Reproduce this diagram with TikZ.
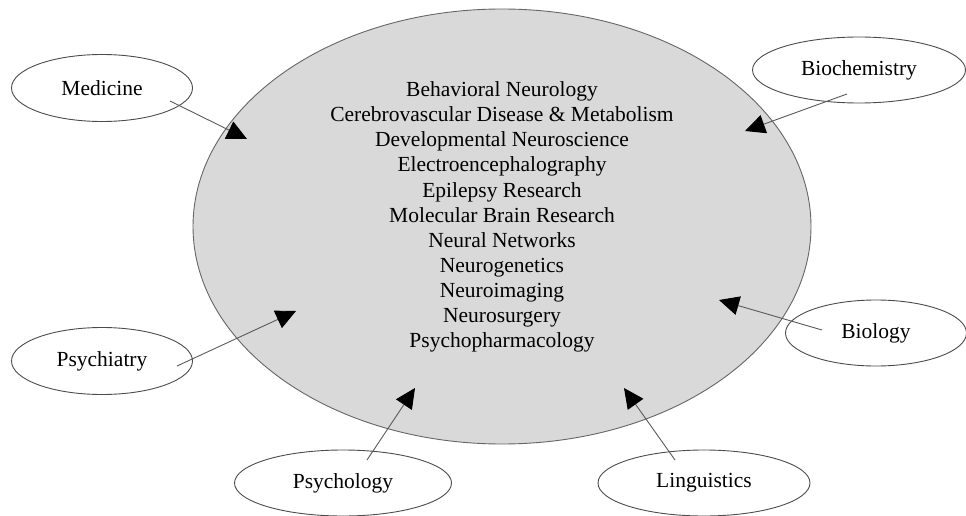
\documentclass[tikz,border=0pt]{standalone}
\usepackage{fontspec}
\setmainfont{Liberation Serif}
\usetikzlibrary{shapes.geometric,arrows.meta}
\begin{document}
\begin{tikzpicture}[x=1pt,y=-1pt,
  field/.style={ellipse,draw=black!70,line width=0.9pt,fill=white,
    inner sep=0pt,font=\fontsize{21.5}{25}\selectfont},
  core/.style={ellipse,draw=black!60,line width=0.9pt,fill=black!15,
    inner sep=0pt,minimum width=618pt,minimum height=435pt},
  link/.style={draw=black!65,line width=0.9pt,
    -{Triangle[length=20pt,width=19pt,color=black]}}]
  \useasboundingbox (0,0) rectangle (966,516);

  % central area with its list of specialities
  \node[core] (core) at (502,226.5) {};
  \node[align=center,font=\fontsize{21.5}{25.1}\selectfont] (list) at (502,217)
    {Behavioral Neurology\\
     Cerebrovascular Disease \& Metabolism\\
     Developmental Neuroscience\\
     Electroencephalography\\
     Epilepsy Research\\
     Molecular Brain Research\\
     Neural Networks\\
     Neurogenetics\\
     Neuroimaging\\
     Neurosurgery\\
     Psychopharmacology};

  % contributing disciplines
  \node[field,minimum width=181pt,minimum height=67pt] (med) at (102,88) {Medicine};
  \node[field,minimum width=213pt,minimum height=66pt] (bio) at (859,70) {Biochemistry};
  \node[field,minimum width=181pt,minimum height=67pt] (psy) at (102,361) {Psychiatry};
  \node[field,minimum width=181pt,minimum height=66pt] (biol) at (876,333) {Biology};
  \node[field,minimum width=217pt,minimum height=66pt] (psl) at (343,483) {Psychology};
  \node[field,minimum width=212pt,minimum height=66pt] (lng) at (704,483) {Linguistics};

  % start and end points of the arrows
  \coordinate (medS) at (170,101);  \coordinate (medT) at (247,139);
  \coordinate (bioS) at (847,94);   \coordinate (bioT) at (745,131);
  \coordinate (psyS) at (177,366);  \coordinate (psyT) at (296,311);
  \coordinate (biolS) at (822,330); \coordinate (biolT) at (719,300);
  \coordinate (pslS) at (367,460);  \coordinate (pslT) at (415,388);
  \coordinate (lngS) at (675,460);  \coordinate (lngT) at (624,388);

  \draw[link] (medS) -- (medT);
  \draw[link] (bioS) -- (bioT);
  \draw[link] (psyS) -- (psyT);
  \draw[link] (biolS) -- (biolT);
  \draw[link] (pslS) -- (pslT);
  \draw[link] (lngS) -- (lngT);
\end{tikzpicture}
\end{document}
